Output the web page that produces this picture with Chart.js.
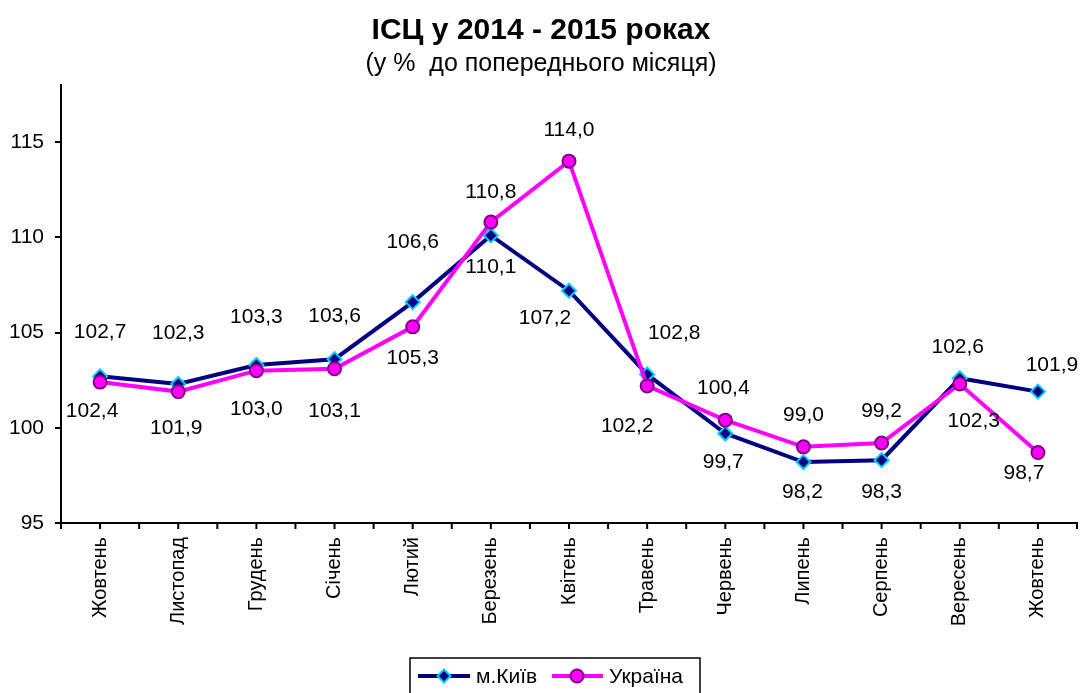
<!DOCTYPE html>
<html>
<head>
<meta charset="utf-8">
<script src="https://cdn.jsdelivr.net/npm/chart.js@4.4.0/dist/chart.umd.min.js"></script>
<style>
html,body{margin:0;padding:0;background:#fff;}
#wrap{width:1086px;height:693px;}
</style>
</head>
<body>
<div id="wrap"><canvas id="graphIsc"></canvas></div>
<script>
let months = ["Жовтень","Листопад","Грудень","Січень","Лютий","Березень","Квітень","Травень","Червень","Липень","Серпень","Вересень","Жовтень"];
let kyiv = [102.7,102.3,103.3,103.6,106.6,110.1,107.2,102.8,99.7,98.2,98.3,102.6,101.9];
let ukraine = [102.4,101.9,103.0,103.1,105.3,110.8,114.0,102.2,100.4,99.0,99.2,102.3,98.7];
let yTicks = [95,100,105,110,115];

// where each value label sits, relative to its point (px)
let kyivShift = [[0,-44],[0,-51],[0,-48],[0,-43],[0,-60],[0,32],[-24,28],[27,-41],[-2,29],[-1,30],[0,32],[-2,-31],[14,-26]];
let ukraineShift = [[-8,29],[-2,37],[0,39],[0,42],[0,31],[0,-30],[0,-31],[-20,40],[-2,-32],[0,-32],[0,-32],[14,37],[-14,21]];

const FONT = "'Liberation Sans', Arial, sans-serif";
const NAVY = "#000080";
const CYAN = "#00CCFF";
const PINK = "#FF00FF";
const PURPLE = "#800080";

function fmt(v){
    return v.toFixed(1).replace(".", ",");
}

let valueLabels = {
    id:"valueLabels",
    afterDatasetsDraw(chart){
        let ctx = chart.ctx;
        ctx.save();
        ctx.font = "21px " + FONT;
        ctx.fillStyle = "#000";
        ctx.textAlign = "center";
        ctx.textBaseline = "middle";
        chart.data.datasets.forEach((ds, i)=>{
            let meta = chart.getDatasetMeta(i);
            let shift = ds.label == "м.Київ" ? kyivShift : ukraineShift;
            meta.data.forEach((pt, j)=>{
                ctx.fillText(fmt(ds.data[j]), pt.x + shift[j][0], pt.y + shift[j][1]);
            });
        });
        ctx.restore();
    }
};

let axisTicks = {
    id:"axisTicks",
    afterDraw(chart){
        let ctx = chart.ctx;
        let sx = chart.scales.x;
        let half = (sx.getPixelForValue(1) - sx.getPixelForValue(0)) / 2;
        let y0 = chart.chartArea.bottom;
        ctx.save();
        ctx.strokeStyle = "#000";
        ctx.lineWidth = 2;
        ctx.beginPath();
        for(let i = 0; i < months.length; i++){
            let x = sx.getPixelForValue(i);
            ctx.moveTo(x, y0); ctx.lineTo(x, y0 + 6);
            ctx.moveTo(x - half, y0); ctx.lineTo(x - half, y0 + 6);
            if(i == months.length - 1){
                ctx.moveTo(x + half, y0); ctx.lineTo(x + half, y0 + 6);
            }
        }
        ctx.stroke();
        ctx.restore();
    }
};

function marker(ctx, kind, x, y){
    ctx.lineWidth = 2;
    ctx.beginPath();
    if(kind == "diamond"){
        ctx.fillStyle = NAVY; ctx.strokeStyle = CYAN;
        ctx.moveTo(x, y - 6.5); ctx.lineTo(x + 6.5, y); ctx.lineTo(x, y + 6.5); ctx.lineTo(x - 6.5, y); ctx.closePath();
    }else{
        ctx.fillStyle = PINK; ctx.strokeStyle = PURPLE;
        ctx.arc(x, y, 6.5, 0, Math.PI * 2);
    }
    ctx.fill();
    ctx.stroke();
}

let boxLegend = {
    id:"boxLegend",
    afterDraw(chart){
        let ctx = chart.ctx;
        ctx.save();
        ctx.strokeStyle = "#000";
        ctx.lineWidth = 1.5;
        ctx.strokeRect(410, 658, 290, 40);
        let cy = 676;
        ctx.lineWidth = 4;
        ctx.strokeStyle = NAVY;
        ctx.beginPath(); ctx.moveTo(418, cy); ctx.lineTo(470, cy); ctx.stroke();
        marker(ctx, "diamond", 444, cy);
        ctx.lineWidth = 4;
        ctx.strokeStyle = PINK;
        ctx.beginPath(); ctx.moveTo(552, cy); ctx.lineTo(603, cy); ctx.stroke();
        marker(ctx, "circle", 577, cy);
        ctx.font = "21px " + FONT;
        ctx.fillStyle = "#000";
        ctx.textAlign = "left";
        ctx.textBaseline = "middle";
        ctx.fillText("м.Київ", 476, cy + 1);
        ctx.fillText("Україна", 609, cy + 1);
        ctx.restore();
    }
};

let myCanvas = document.getElementById("graphIsc").getContext("2d");
let graph = new Chart(myCanvas, {
    type:"line",
    data:{
        labels:months,
        datasets:[{
            label:"м.Київ",
            data:kyiv,
            order:2,
            borderColor:NAVY,
            borderWidth:4,
            pointStyle:"rectRot",
            pointRadius:7,
            pointBackgroundColor:NAVY,
            pointBorderColor:CYAN,
            pointBorderWidth:2,
            tension:0
        },{
            label:"Україна",
            data:ukraine,
            order:1,
            borderColor:PINK,
            borderWidth:4,
            pointStyle:"circle",
            pointRadius:6.5,
            pointBackgroundColor:PINK,
            pointBorderColor:PURPLE,
            pointBorderWidth:2,
            tension:0
        }]
    },
    options:{
        responsive:true,
        maintainAspectRatio:false,
        animation:false,
        events:[],
        layout:{padding:{left:0, right:4, top:0, bottom:0}},
        plugins:{
            legend:{display:false},
            tooltip:{enabled:false},
            title:{
                display:true,
                text:"ІСЦ у 2014 - 2015 роках",
                color:"#000",
                font:{family:FONT, size:30, weight:"bold"},
                padding:{top:13, bottom:0}
            },
            subtitle:{
                display:true,
                text:"(у %  до попереднього місяця)",
                color:"#000",
                font:{family:FONT, size:25},
                padding:{top:0, bottom:6}
            }
        },
        scales:{
            x:{
                offset:true,
                grid:{display:false},
                border:{display:true, color:"#000", width:2},
                ticks:{
                    color:"#000",
                    font:{family:FONT, size:20},
                    minRotation:90,
                    maxRotation:90,
                    padding:6,
                    autoSkip:false
                },
                afterFit(scale){ scale.height = 170; }
            },
            y:{
                min:95,
                max:118,
                grid:{drawOnChartArea:false, color:"#000", lineWidth:2, tickLength:6},
                border:{display:true, color:"#000", width:2},
                ticks:{
                    color:"#000",
                    font:{family:FONT, size:21},
                    padding:11,
                    stepSize:5
                },
                afterBuildTicks(scale){
                    scale.ticks = yTicks.map(v=>({value:v}));
                },
                afterFit(scale){ scale.width = 61; }
            }
        }
    },
    plugins:[valueLabels, axisTicks, boxLegend]
});
</script>
</body>
</html>
